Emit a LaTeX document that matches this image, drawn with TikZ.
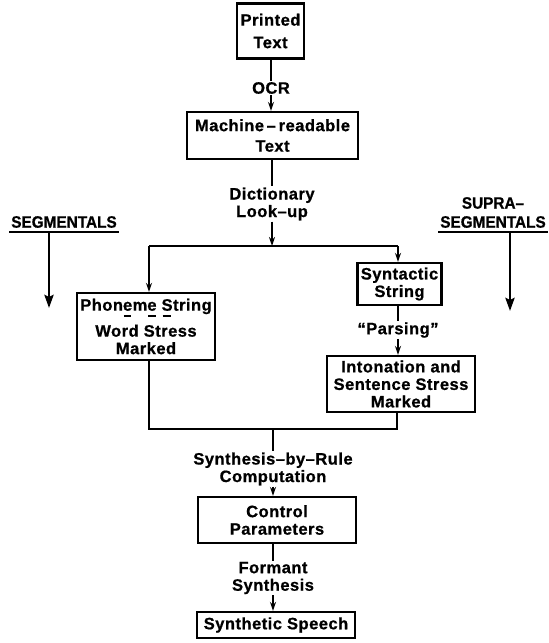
\documentclass[tikz,border=0pt]{standalone}
\usepackage{fontspec}
\setmainfont{Liberation Sans}
\newfontfamily\letterfont{Liberation Sans}[LetterSpace=3,BoldFont={Liberation Sans Bold},BoldFeatures={FakeBold=0.8}]
\newfontfamily\narrowfont{Liberation Sans Bold}[FakeStretch=0.93,FakeBold=0.8]
\usetikzlibrary{arrows.meta}
\newcommand\boxfont{\letterfont\bfseries\fontsize{16.5}{17.5}\selectfont}
\newcommand\sidefont{\narrowfont\fontsize{16.5}{19}\selectfont}
\newcommand\stressmark[1]{\setbox0\hbox{#1}\rlap{\hspace{0.1\wd0}\raisebox{-6pt}{\rule{0.8\wd0}{1.6pt}}}#1}
\begin{document}
\begin{tikzpicture}[x=1pt,y=-1pt,
  box/.style={draw, line width=2.2pt, inner sep=0pt, align=center, font=\boxfont},
  lbl/.style={inner sep=1pt, align=center, font=\boxfont},
  side/.style={inner sep=0pt, align=center, font=\sidefont},
  conn/.style={line width=1.5pt},
  arr/.style={conn, -{Stealth[length=9pt,width=6pt]}},
  bigarr/.style={line width=2.8pt, -{Stealth[length=13pt,width=9pt,inset=2pt]}},
  rulebar/.style={line width=2.6pt}]
\useasboundingbox (0,0) rectangle (549,643);
% boxes and labels
\node[box, minimum width=67pt, minimum height=55pt] (printed) at (270.5,31) {Printed\\[5pt]Text};
\node[lbl] (ocr) at (271,88) {OCR};
\node[box, minimum width=171pt, minimum height=47pt] (machine) at (272.5,135.5) {Machine\,–\,readable\\[3pt]Text};
\node[lbl] (dict) at (272,204) {Dictionary\\Look–up};
\coordinate (jt) at (272,246);
\coordinate (jl) at (149,246);
\coordinate (jr) at (398,246);
\node[box, minimum width=138pt, minimum height=67pt] (phon) at (146,326.5) {Phon\stressmark{e}m\stressmark{e} \stressmark{S}tring\\[7pt]Word Stress\\Marked};
\node[box, minimum width=84pt, minimum height=42pt] (syn) at (399.5,284) {Syntactic\\String};
\node[lbl] (pars) at (398,330) {“Parsing”};
\node[box, minimum width=148pt, minimum height=56pt] (inton) at (401,384) {Intonation and\\Sentence Stress\\Marked};
\coordinate (bl) at (149,429);
\coordinate (br) at (397,429);
\coordinate (jb) at (273,429);
\node[lbl] (sbr) at (273,469) {Synthesis–by–Rule\\Computation};
\node[box, minimum width=158pt, minimum height=46pt] (ctrl) at (277,520) {Control\\Parameters};
\node[lbl] (form) at (273,578) {Formant\\Synthesis};
\node[box, minimum width=158pt, minimum height=26pt] (speech) at (276,625) {Synthetic Speech};
% connectors
\draw[conn] (ocr |- printed.south) -- (ocr.north);
\draw[arr] (ocr.south) -- (ocr |- machine.north);
\draw[conn] (dict |- machine.south) -- (dict.north);
\draw[arr] (dict.south) -- (jt);
\draw[conn] (jl) -- (jr);
\draw[arr] (jl) -- (jl |- phon.north);
\draw[arr] (jr) -- (jr |- syn.north);
\draw[conn] (pars |- syn.south) -- (pars.north);
\draw[arr] (pars.south) -- (pars |- inton.north);
\draw[conn] (bl |- phon.south) -- (bl) -- (br) -- (br |- inton.south);
\draw[conn] (jb) -- (sbr.north);
\draw[arr] (sbr.south) -- (sbr |- ctrl.north);
\draw[conn] (form |- ctrl.south) -- (form.north);
\draw[arr] (form.south) -- (form |- speech.north);
% side labels
\node[side] (seg) at (64,222) {SEGMENTALS};
\draw[rulebar] ([xshift=-2pt,yshift=-4pt]seg.south west) -- ([xshift=2pt,yshift=-4pt]seg.south east);
\coordinate (segtop) at (49,232);
\coordinate (segtip) at (49,308);
\draw[bigarr] (segtop) -- (segtip);
\node[side] (supra) at (493,212.5) {SUPRA–\\SEGMENTALS};
\draw[rulebar] ([xshift=-2pt,yshift=-4pt]supra.south west) -- ([xshift=2pt,yshift=-4pt]supra.south east);
\coordinate (suptop) at (510,232);
\coordinate (suptip) at (510,311);
\draw[bigarr] (suptop) -- (suptip);
\end{tikzpicture}
\end{document}
